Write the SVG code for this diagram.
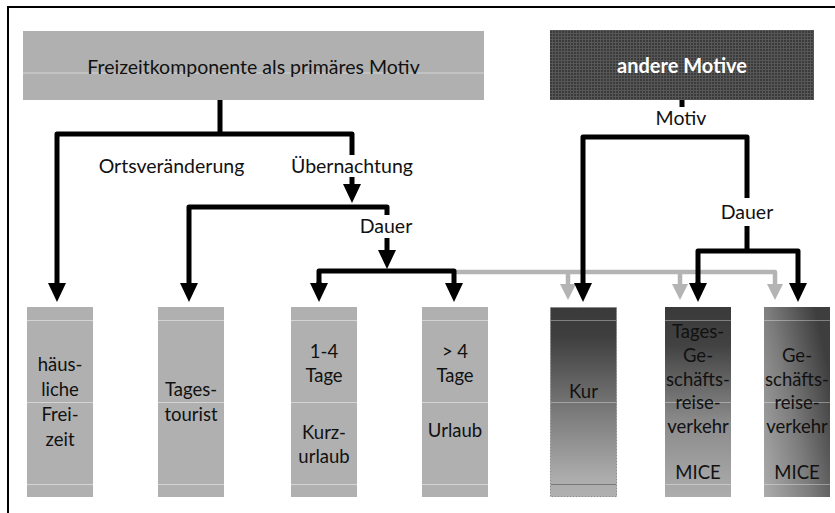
<svg xmlns="http://www.w3.org/2000/svg" width="835" height="513" viewBox="0 0 835 513">
<style>
  .t { font-family: Lato, "Liberation Sans", sans-serif; fill: #111; text-anchor: middle; }
  .lbl { font-size: 19.5px; }
  .bx { font-size: 18.5px; }
  .gbox { fill: #b0b0b0; }
  .sep { stroke: #d4d4d4; stroke-width: 1; }
  .sepd { stroke: #ffffff; stroke-opacity: 0.35; stroke-width: 1; }
  .blk { fill: none; stroke: #000; stroke-width: 5; stroke-linejoin: round; }
  .gry { fill: none; stroke: #b4b4b4; stroke-width: 4.5; stroke-linejoin: round; }
</style>
<defs>
  <marker id="ab" markerUnits="userSpaceOnUse" markerWidth="20" markerHeight="18" refX="0" refY="9" orient="auto" viewBox="0 0 20 18">
    <path d="M0,0 L19,9 L0,18 z" fill="#000"/>
  </marker>
  <marker id="ag" markerUnits="userSpaceOnUse" markerWidth="17" markerHeight="16" refX="0" refY="8" orient="auto" viewBox="0 0 17 16">
    <path d="M0,0 L16,8 L0,16 z" fill="#b4b4b4"/>
  </marker>
  <pattern id="grid" width="3" height="3" patternUnits="userSpaceOnUse">
    <rect width="3" height="3" fill="#3b3b3b"/>
    <path d="M0,0.5 H3 M0.5,0 V3" stroke="#575757" stroke-width="1"/>
  </pattern>
  <linearGradient id="gKur" x1="0" y1="0" x2="0" y2="1">
    <stop offset="0" stop-color="#3a3a3a"/>
    <stop offset="0.15" stop-color="#3e3e3e"/>
    <stop offset="0.55" stop-color="#7a7a7a"/>
    <stop offset="0.9" stop-color="#acacac"/>
    <stop offset="1" stop-color="#b0b0b0"/>
  </linearGradient>
  <linearGradient id="gTag" x1="0" y1="0" x2="0" y2="1">
    <stop offset="0" stop-color="#3a3a3a"/>
    <stop offset="0.2" stop-color="#424242"/>
    <stop offset="0.6" stop-color="#8a8a8a"/>
    <stop offset="1" stop-color="#adadad"/>
  </linearGradient>
  <linearGradient id="gGes" x1="0" y1="1" x2="1" y2="0.35">
    <stop offset="0" stop-color="#acacac"/>
    <stop offset="0.5" stop-color="#7c7c7c"/>
    <stop offset="1" stop-color="#3e3e3e"/>
  </linearGradient>
</defs>

<rect width="835" height="513" fill="#fff"/>
<path d="M8,513 V7 H835" fill="none" stroke="#000" stroke-width="2"/>

<g id="freizeit">
  <rect x="23" y="31" width="461" height="69" class="gbox"/>
  <line x1="23" y1="73" x2="484" y2="73" class="sep"/>
  <text x="253.5" y="74" class="t lbl">Freizeitkomponente als primäres Motiv</text>
</g>

<g id="andere">
  <rect x="550" y="30" width="264" height="70" fill="url(#grid)"/>
  <text x="682" y="73" class="t" style="font-size:20px;font-weight:bold;fill:#fff">andere Motive</text>
</g>

<g id="connectors">
  <path class="gry" d="M455,272 H775 V284" marker-end="url(#ag)"/>
  <path class="gry" d="M568,272 V284" marker-end="url(#ag)"/>
  <path class="gry" d="M680,272 V284" marker-end="url(#ag)"/>

  <path class="blk" d="M220,100 V134"/>
  <path class="blk" d="M352,155 V134 H57 V283" marker-end="url(#ab)"/>
  <path class="blk" d="M352,177 V184" marker-end="url(#ab)"/>
  <path class="blk" d="M387,215 V207 H189 V283" marker-end="url(#ab)"/>
  <path class="blk" d="M387,238 V250" marker-end="url(#ab)"/>
  <path class="blk" d="M319,283 V271 H454 V283" marker-end="url(#ab)"/>
  <path class="blk" d="M319,282 V283" marker-end="url(#ab)"/>

  <path class="blk" d="M682,100 V107"/>
  <path class="blk" d="M747,198 V137 H583 V283" marker-end="url(#ab)"/>
  <path class="blk" d="M747,226 V251"/>
  <path class="blk" d="M698,283 V251 H798 V283" marker-end="url(#ab)"/>
  <path class="blk" d="M698,282 V283" marker-end="url(#ab)"/>
</g>

<g id="labels">
  <text x="171.5" y="173" class="t lbl">Ortsveränderung</text>
  <text x="352" y="173" class="t lbl">Übernachtung</text>
  <text x="386" y="233" class="t lbl">Dauer</text>
  <text x="681" y="125" class="t lbl">Motiv</text>
  <text x="747" y="219" class="t lbl">Dauer</text>
</g>

<g id="haeuslich">
  <rect x="27" y="307" width="66" height="190" class="gbox"/>
  <path d="M27,320.5 H93 M27,402.5 H93 M27,484.5 H93" class="sep"/>
  <text class="t bx"><tspan x="60" y="371">häus-</tspan><tspan x="60" y="396">liche</tspan><tspan x="60" y="421">Frei-</tspan><tspan x="60" y="446">zeit</tspan></text>
</g>

<g id="tagestourist">
  <rect x="158" y="307" width="66" height="190" class="gbox"/>
  <path d="M158,320.5 H224 M158,402.5 H224 M158,484.5 H224" class="sep"/>
  <text class="t bx"><tspan x="191" y="396">Tages-</tspan><tspan x="191" y="421">tourist</tspan></text>
</g>

<g id="kurzurlaub">
  <rect x="291" y="307" width="66" height="190" class="gbox"/>
  <path d="M291,320.5 H357 M291,402.5 H357 M291,484.5 H357" class="sep"/>
  <text class="t bx"><tspan x="324" y="358">1-4</tspan><tspan x="324" y="382">Tage</tspan><tspan x="324" y="439">Kurz-</tspan><tspan x="324" y="463">urlaub</tspan></text>
</g>

<g id="urlaub">
  <rect x="422" y="307" width="66" height="190" class="gbox"/>
  <path d="M422,320.5 H488 M422,402.5 H488 M422,484.5 H488" class="sep"/>
  <text class="t bx"><tspan x="455" y="358">&gt; 4</tspan><tspan x="455" y="382">Tage</tspan><tspan x="455" y="437">Urlaub</tspan></text>
</g>

<g id="kur">
  <rect x="550.5" y="307.5" width="66" height="189" fill="url(#gKur)" stroke="#7a7a7a" stroke-width="0.8" stroke-dasharray="2,1"/>
  <path d="M551,320.5 H616 M551,402.5 H616" class="sepd"/>
  <path d="M551,484.5 H616" stroke="#777" stroke-width="1"/>
  <text x="583.5" y="398" class="t bx">Kur</text>
</g>

<g id="tagesgeschaeft">
  <rect x="665" y="307" width="66" height="190" fill="url(#gTag)"/>
  <path d="M665,320.5 H731 M665,402.5 H731 M665,484.5 H731" class="sepd"/>
  <text class="t bx"><tspan x="698" y="338">Tages-</tspan><tspan x="698" y="362">Ge-</tspan><tspan x="698" y="386">schäfts-</tspan><tspan x="698" y="409">reise-</tspan><tspan x="698" y="433">verkehr</tspan><tspan x="698" y="479">MICE</tspan></text>
</g>

<g id="geschaeft">
  <rect x="764" y="307" width="66" height="190" fill="url(#gGes)"/>
  <path d="M764,320.5 H830 M764,402.5 H830 M764,484.5 H830" class="sepd"/>
  <text class="t bx"><tspan x="797" y="362">Ge-</tspan><tspan x="797" y="386">schäfts-</tspan><tspan x="797" y="409">reise-</tspan><tspan x="797" y="433">verkehr</tspan><tspan x="797" y="479">MICE</tspan></text>
</g>
</svg>
